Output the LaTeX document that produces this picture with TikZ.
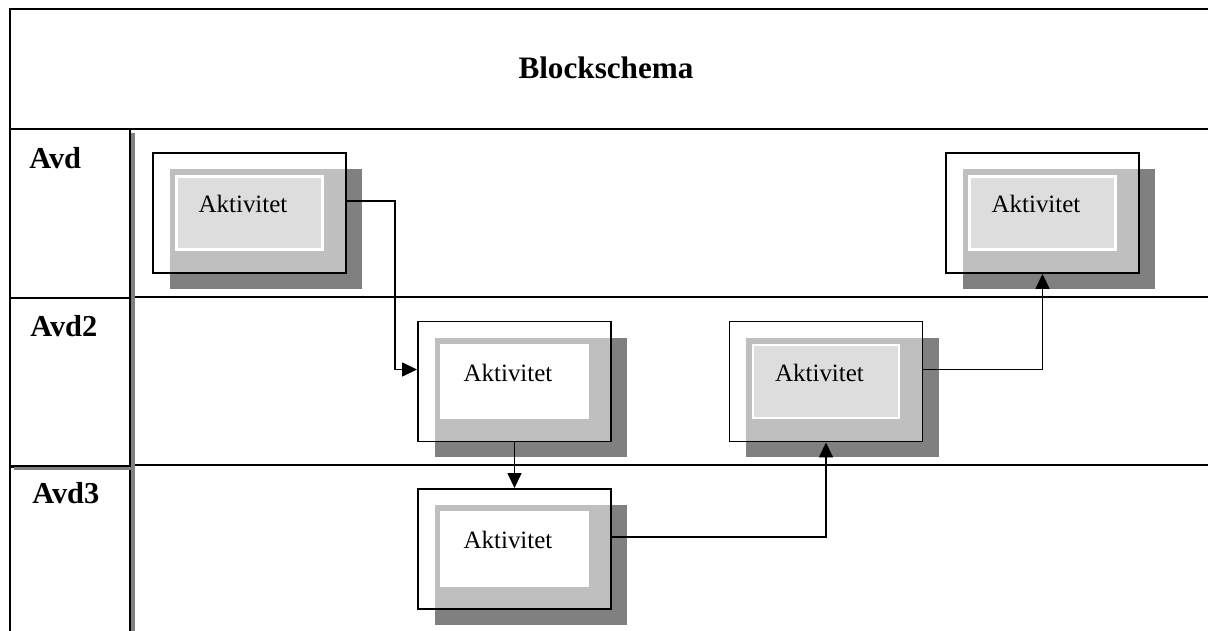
\documentclass[tikz,border=0pt]{standalone}
\usepackage{fontspec}
\setmainfont{Liberation Serif}
\usetikzlibrary{arrows.meta}

\definecolor{skugga}{HTML}{808080}
\definecolor{ljus}{HTML}{DDDDDD}

\tikzset{
  akt/.style={rectangle, draw=black, line width=1.1pt, fill=white, fill opacity=0.5, minimum width=3.86cm, minimum height=2.4cm, inner sep=0pt},
  aktskugga/.style={rectangle, fill=skugga, minimum width=3.86cm, minimum height=2.4cm, inner sep=0pt, xshift=0.33cm, yshift=-0.32cm},
  aktinre/.style={rectangle, draw=white, line width=1.2pt, minimum width=2.92cm, minimum height=1.46cm, inner sep=0pt},
  akttext/.style={font=\fontsize{14.2}{16}\selectfont, inner sep=0pt, xshift=-0.13cm, yshift=0.18cm},
  avd/.style={rectangle, draw=black, line width=1.1pt, fill=white, inner sep=0pt, anchor=north west, minimum width=2.4cm},
  avdtext/.style={anchor=base west, inner sep=0pt, font=\bfseries\fontsize{17.3}{20}\selectfont},
  lane/.style={line width=1.1pt},
  pil/.style={line width=0.85pt, -{Triangle[length=0.3cm, width=0.28cm]}}
}

\begin{document}
\begin{tikzpicture}[x=0.02cm, y=-0.02cm]

\useasboundingbox (0,0) rectangle (1208,631);
\clip (0,0) rectangle (1208,631);

\node(rubrik) [rectangle, draw=black, line width=1.2pt, anchor=north west, minimum width=24.3cm, minimum height=2.4cm, inner sep=0pt] at (9,8) {};
\node(titel) [anchor=base, inner sep=0pt, font=\bfseries\fontsize{17.75}{21}\selectfont] at (606,79) {Blockschema};

\node(b3) [avd, minimum height=3.48cm] at (9,466) {};
\draw[lane] (129,297) -- (1212,297);
\draw[lane] (129,465) -- (1212,465);
\fill[skugga] (130.5,133) rectangle (135,631);
\fill[skugga] (14,465.5) rectangle (135,470);
\node(b1) [avd, minimum height=3.38cm] at (9,128) {};
\node(b2) [avd, minimum height=3.36cm] at (9,297) {};

\node(l1) [avdtext] at (29,169) {Avd};
\node(l2) [avdtext] at (30,337) {Avd2};
\node(l3) [avdtext] at (32,504) {Avd3};

\node(s1) [aktskugga] at (249.5,213) {};
\node(a1) [akt] at (249.5,213) {};
\node(i1) [aktinre, fill=ljus] at (249.5,213) {};
\node(t1) [akttext] at (249.5,213) {Aktivitet};

\node(s2) [aktskugga] at (514.5,381.5) {};
\node(a2) [akt] at (514.5,381.5) {};
\node(i2) [aktinre, fill=white] at (514.5,381.5) {};
\node(t2) [akttext] at (514.5,381.5) {Aktivitet};

\node(s3) [aktskugga] at (514.5,549) {};
\node(a3) [akt] at (514.5,549) {};
\node(i3) [aktinre, fill=white] at (514.5,549) {};
\node(t3) [akttext] at (514.5,549) {Aktivitet};

\node(s4) [aktskugga] at (826,381.5) {};
\node(a4) [akt] at (826,381.5) {};
\node(i4) [aktinre, fill=ljus] at (826,381.5) {};
\node(t4) [akttext] at (826,381.5) {Aktivitet};

\node(s5) [aktskugga] at (1042.5,213) {};
\node(a5) [akt] at (1042.5,213) {};
\node(i5) [aktinre, fill=ljus] at (1042.5,213) {};
\node(t5) [akttext] at (1042.5,213) {Aktivitet};

\draw[pil] ([yshift=0.24cm]a1.east) -- ++(48,0) |- ([yshift=0.24cm]a2.west);
\draw[pil] (a2.south) -- (a3.north);
\draw[pil] ([yshift=0.24cm]a3.east) -| (a4.south);
\draw[pil] ([yshift=0.24cm]a4.east) -| (a5.south);

\end{tikzpicture}
\end{document}
